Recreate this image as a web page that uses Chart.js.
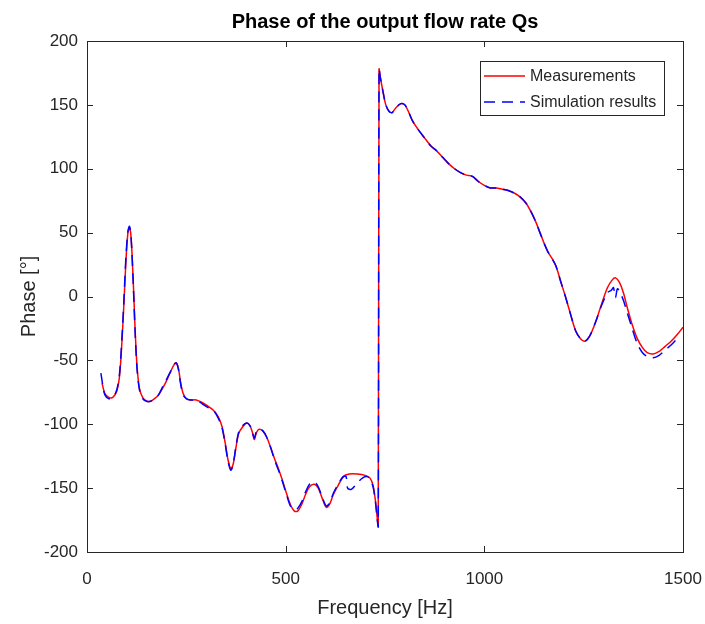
<!DOCTYPE html>
<html lang="en">
<head>
  <meta charset="UTF-8">
  <title>Phase of the output flow rate Qs</title>
  <script src="https://cdn.jsdelivr.net/npm/chart.js"></script>
  <style>
    body {
      margin: 0;
      background: #ffffff;
    }
    #wrap {
      width: 705px;
      height: 624px;
    }
  </style>
</head>
<body>
  <div id="wrap"><canvas id="grafico"></canvas></div>

  <script>
// measured curve (Hz, degrees)
const measFreq = [38, 45, 55, 65, 75, 82, 88, 93, 98, 103, 107, 111, 116, 121, 126, 132, 140, 150, 160, 170,
  180, 190, 200, 210, 220, 225, 230, 236, 242, 250, 260, 275, 290, 305, 318, 330, 340, 348, 355, 362,
  368, 375, 382, 392, 402, 410, 416, 421, 426, 432, 442, 452, 462, 472, 482, 492, 502, 512, 522, 530,
  540, 550, 560, 572, 582, 592, 602, 610, 620, 632, 645, 660, 680, 700, 712, 720, 726, 730, 733, 735,
  738, 744, 752, 760, 768, 778, 790, 800, 810, 820, 835, 850, 865, 880, 895, 910, 925, 940, 955, 970,
  985, 1000, 1015, 1030, 1045, 1060, 1075, 1090, 1105, 1118, 1130, 1140, 1150, 1160, 1170, 1180, 1192, 1205, 1218, 1230,
  1242, 1253, 1265, 1280, 1295, 1310, 1322, 1330, 1340, 1350, 1360, 1372, 1385, 1398, 1410, 1425, 1440, 1455, 1470, 1485, 1500];
const measPhase = [-68, -76, -79, -79, -74, -62, -35, -5, 28, 50, 54, 46, 15, -25, -55, -72, -79, -82, -82, -80,
  -77, -72, -66, -59, -53, -52, -56, -68, -76, -80, -81, -81, -83, -86, -89, -94, -102, -115, -128, -135,
  -131, -118, -107, -102, -99, -101, -106, -112, -107, -104, -105, -110, -118, -127, -135, -144, -154, -163, -168, -168,
  -163, -155, -149, -147, -150, -158, -165, -163, -155, -148, -141, -139, -139, -140, -142, -148, -160, -172, -180, 178,
  172, 162, 150, 145, 144, 148, 151, 150, 144, 137, 130, 124, 118, 114, 109, 104, 100, 97, 95, 94,
  90, 87, 85, 85, 84, 83, 81, 78, 73, 66, 58, 50, 42, 35, 30, 24, 12, -1, -15, -27,
  -33, -35, -31, -20, -6, 7, 13, 14.6, 11, 3, -9, -22, -33, -40, -44, -45, -43, -39, -35, -30, -24];

// simulated curve (Hz, degrees)
const simFreq = [35, 40, 45, 55, 65, 75, 82, 88, 93, 98, 103, 107, 111, 116, 121, 126, 132, 140, 150, 160,
  170, 180, 190, 200, 210, 220, 225, 230, 236, 242, 250, 260, 275, 290, 305, 318, 330, 340, 348, 355,
  362, 368, 375, 382, 392, 402, 410, 416, 421, 426, 432, 442, 452, 462, 472, 482, 492, 502, 512, 522,
  530, 540, 550, 560, 572, 582, 592, 602, 610, 620, 632, 645, 652, 656, 665, 680, 694, 705, 712, 720,
  726, 730, 733, 735, 738, 744, 752, 760, 768, 778, 790, 800, 810, 820, 835, 850, 865, 880, 895, 910,
  925, 940, 955, 970, 985, 1000, 1015, 1030, 1045, 1060, 1075, 1090, 1105, 1118, 1130, 1140, 1150, 1160, 1170, 1180,
  1192, 1205, 1218, 1230, 1242, 1253, 1265, 1280, 1295, 1310, 1320, 1325, 1330, 1335, 1342, 1350, 1360, 1372, 1385, 1398,
  1410, 1425, 1440, 1455, 1470, 1485];
const simPhase = [-60, -70, -77, -80, -79, -73, -60, -32, -2, 31, 51, 55, 46, 13, -27, -57, -73, -80, -82, -82,
  -80, -77, -71, -65, -59, -53, -52, -57, -69, -77, -80, -81, -81, -84, -87, -89, -95, -103, -116, -129,
  -136, -131, -117, -106, -101, -99, -101, -106, -111, -106, -104, -105, -110, -118, -128, -136, -145, -155, -164, -167,
  -166, -161, -153, -147, -145, -149, -157, -164, -162, -154, -147, -141, -141, -150, -151, -146, -142, -141, -143, -149,
  -161, -173, -180, 178, 172, 162, 150, 145, 144, 148, 151, 150, 144, 137, 130, 124, 118, 114, 109, 104,
  100, 97, 95, 94, 90, 87, 85, 85, 84, 83, 81, 78, 73, 66, 58, 50, 42, 35, 30, 24,
  12, -1, -15, -27, -33, -35, -31, -20, -7, 3, 5, 7, -1, 6, 3, -3, -13, -25, -37, -44,
  -47, -48, -46, -42, -38, -33];

const xTicks = [0, 500, 1000, 1500];
const yTicks = [-200, -150, -100, -50, 0, 50, 100, 150, 200];

const corTexto = '#262626';
const fonte = "'Liberation Sans', Arial, sans-serif";

// frame + inward ticks like the matlab axes, plus the boxed legend
const molduraPlugin = {
  id: 'moldura',
  afterDraw(chart) {
    const { ctx, chartArea: a, scales } = chart;
    ctx.save();
    ctx.strokeStyle = corTexto;
    ctx.lineWidth = 1;
    ctx.strokeRect(a.left + 0.5, a.top + 0.5, a.right - a.left, a.bottom - a.top);
    ctx.beginPath();
    xTicks.forEach(v => {
      const px = Math.round(scales.x.getPixelForValue(v)) + 0.5;
      ctx.moveTo(px, a.bottom); ctx.lineTo(px, a.bottom - 6);
      ctx.moveTo(px, a.top); ctx.lineTo(px, a.top + 6);
    });
    yTicks.forEach(v => {
      const py = Math.round(scales.y.getPixelForValue(v)) + 0.5;
      ctx.moveTo(a.left, py); ctx.lineTo(a.left + 6, py);
      ctx.moveTo(a.right, py); ctx.lineTo(a.right - 6, py);
    });
    ctx.stroke();

    // legenda
    const lx = 480, ly = 61, lw = 184, lh = 54;
    ctx.fillStyle = '#ffffff';
    ctx.fillRect(lx, ly, lw, lh);
    ctx.strokeStyle = corTexto;
    ctx.strokeRect(lx + 0.5, ly + 0.5, lw, lh);
    ctx.font = '16px ' + fonte;
    ctx.textBaseline = 'middle';
    chart.data.datasets.forEach((ds, i) => {
      const y = ly + 15 + i * 26;
      ctx.strokeStyle = ds.borderColor;
      ctx.lineWidth = 1.5;
      ctx.setLineDash(ds.borderDash || []);
      ctx.beginPath();
      ctx.moveTo(lx + 4, y); ctx.lineTo(lx + 45, y);
      ctx.stroke();
      ctx.setLineDash([]);
      ctx.fillStyle = corTexto;
      ctx.fillText(ds.label, lx + 50, y + 1);
    });
    ctx.restore();
  }
};

new Chart(document.getElementById('grafico').getContext('2d'), {
  type: 'line',
  data: {
    datasets: [
      {
        label: 'Measurements',
        data: measFreq.map((f, i) => ({ x: f, y: measPhase[i] })),
        borderColor: '#ff0000',
        borderWidth: 1.5,
        pointRadius: 0,
        tension: 0.3,
        order: 1
      },
      {
        label: 'Simulation results',
        data: simFreq.map((f, i) => ({ x: f, y: simPhase[i] })),
        borderColor: '#0000ff',
        borderWidth: 1.5,
        borderDash: [11, 7],
        pointRadius: 0,
        tension: 0.3,
        order: 0
      }
    ]
  },
  options: {
    responsive: true,
    maintainAspectRatio: false,
    animation: false,
    layout: { padding: { left: 0, right: 22, top: 0, bottom: 0 } },
    plugins: {
      legend: { display: false },
      tooltip: { enabled: false },
      title: {
        display: true,
        fullSize: false,
        text: 'Phase of the output flow rate Qs',
        color: '#000000',
        font: { family: fonte, size: 20, weight: 'bold' },
        padding: { top: 10, bottom: 7 }
      }
    },
    scales: {
      x: {
        type: 'linear',
        min: 0,
        max: 1500,
        afterBuildTicks: s => { s.ticks = xTicks.map(v => ({ value: v })); },
        afterFit: s => { s.height = 72; s.paddingLeft = 0; s.paddingRight = 0; },
        grid: { display: false, drawTicks: false },
        border: { display: false },
        ticks: {
          color: corTexto,
          font: { family: fonte, size: 17 },
          padding: 17,
          maxRotation: 0,
          callback: v => String(v)
        },
        title: {
          display: true,
          text: 'Frequency [Hz]',
          color: corTexto,
          font: { family: fonte, size: 20 },
          padding: { top: 0, bottom: 4 }
        }
      },
      y: {
        type: 'linear',
        min: -200,
        max: 200,
        afterBuildTicks: s => { s.ticks = yTicks.map(v => ({ value: v })); },
        afterFit: s => { s.width = 87; s.paddingTop = 0; s.paddingBottom = 0; },
        grid: { display: false, drawTicks: false },
        border: { display: false },
        ticks: { color: corTexto, font: { family: fonte, size: 17 }, padding: 9, callback: v => String(v) },
        title: {
          display: true,
          text: 'Phase [°]',
          color: corTexto,
          font: { family: fonte, size: 20 },
          padding: { top: 17, bottom: 0 }
        }
      }
    }
  },
  plugins: [molduraPlugin]
});
  </script>
</body>
</html>
